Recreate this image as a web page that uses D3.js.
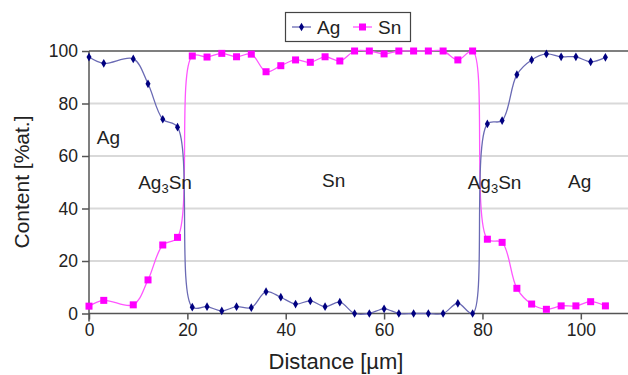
<!DOCTYPE html>
<html>
<head>
<meta charset="utf-8">
<script src="https://cdn.jsdelivr.net/npm/d3@7"></script>
<style>
  body { margin: 0; background: #fff; }
  text { font-family: "Liberation Sans", Arial, sans-serif; fill: #222; }
</style>
</head>
<body>
<div id="chart"></div>
<script>
// distance along the line scan (µm)
var distance = [0, 3, 9, 12, 15, 18, 21, 24, 27, 30, 33, 36, 39, 42, 45, 48, 51, 54,
  57, 60, 63, 66, 69, 72, 75, 78, 81, 84, 87, 90, 93, 96, 99, 102, 105];

// content in %at.
var agValues = [97.7, 95.3, 97, 87.5, 74, 71, 2.4, 2.6, 1.0, 2.6, 2.2, 8.3, 6.2, 3.6, 4.8, 2.6, 4.3, 0,
  0, 1.8, 0, 0, 0, 0, 3.9, 0, 72.2, 73.5, 91, 96.6, 98.9, 97.8, 97.8, 95.9, 97.6];
var snValues = [2.8, 5.0, 3.3, 12.8, 26.1, 29.0, 98.1, 97.7, 99.1, 97.8, 98.8, 92.1, 94.4, 96.6, 95.7, 97.8, 96.2, 100,
  100, 98.9, 100, 100, 100, 100, 96.6, 100, 28.3, 27.1, 9.6, 3.6, 1.6, 2.9, 2.9, 4.5, 2.9];

var xTicks = [0, 20, 40, 60, 80, 100];
var yTicks = [0, 20, 40, 60, 80, 100];

// phase labels placed in the plot
var phaseLabels = [
  { name: "Ag", sub: "", x: 1.6, y: 67 },
  { name: "Ag", sub: "3", after: "Sn", x: 10, y: 50 },
  { name: "Sn", sub: "", x: 47.4, y: 50.7 },
  { name: "Ag", sub: "3", after: "Sn", x: 77, y: 50 },
  { name: "Ag", sub: "", x: 97.4, y: 50.5 }
];

var svgWidth = 628;
var svgHeight = 375;
var margin = { top: 51, right: -2, bottom: 61.5, left: 89 };
var width = svgWidth - margin.left - margin.right;
var height = svgHeight - margin.top - margin.bottom;

var svg = d3.select("#chart")
  .append("svg")
  .attr("width", svgWidth)
  .attr("height", svgHeight);

var chartGroup = svg.append("g")
  .attr("transform", `translate(${margin.left}, ${margin.top})`);

var xScale = d3.scaleLinear().domain([0, 110]).range([0, width]);
var yScale = d3.scaleLinear().domain([0, 100]).range([height, 0]);

// gridlines
chartGroup.append("g")
  .selectAll("line")
  .data(yTicks.filter(d => d > 0 && d < 100))
  .enter()
  .append("line")
  .attr("x1", 0)
  .attr("x2", width)
  .attr("y1", d => yScale(d))
  .attr("y2", d => yScale(d))
  .attr("stroke", "#d9d9d9")
  .attr("stroke-width", 2);

// top border line
chartGroup.append("line")
  .attr("x1", 0).attr("x2", width)
  .attr("y1", yScale(100)).attr("y2", yScale(100))
  .attr("stroke", "#555")
  .attr("stroke-width", 1.5);

// axes
var bottomAxis = d3.axisBottom(xScale).tickValues(xTicks).tickSize(6).tickSizeOuter(0).tickPadding(4);
var leftAxis = d3.axisLeft(yScale).tickValues(yTicks).tickSize(7).tickSizeOuter(0).tickPadding(4);

var xAxisG = chartGroup.append("g")
  .attr("transform", `translate(0, ${height})`)
  .call(bottomAxis);
var yAxisG = chartGroup.append("g").call(leftAxis);

[xAxisG, yAxisG].forEach(function (g) {
  g.select(".domain").attr("stroke", "#555").attr("stroke-width", 1.5);
  g.selectAll(".tick line").attr("stroke", "#555").attr("stroke-width", 1.5);
  g.selectAll(".tick text")
    .attr("font-size", "17.5px")
    .attr("font-family", "Liberation Sans, Arial, sans-serif")
    .attr("fill", "#222");
});
xAxisG.select(".domain").attr("d", `M0,0H${width}`);
yAxisG.select(".domain").attr("d", `M0,${yScale(100)}V${height + 8}`);

// series lines
var agData = distance.map((d, i) => ({ x: d, y: agValues[i] }));
var snData = distance.map((d, i) => ({ x: d, y: snValues[i] }));

var line = d3.line()
  .x(d => xScale(d.x))
  .y(d => yScale(d.y))
  .curve(d3.curveCatmullRom.alpha(0.5));

chartGroup.append("path")
  .datum(snData)
  .attr("d", line)
  .attr("fill", "none")
  .attr("stroke", "#ff55ff")
  .attr("stroke-width", 1.3);

chartGroup.append("path")
  .datum(agData)
  .attr("d", line)
  .attr("fill", "none")
  .attr("stroke", "#6a6ab4")
  .attr("stroke-width", 1.3);

// markers
chartGroup.append("g")
  .selectAll("rect")
  .data(snData)
  .enter()
  .append("rect")
  .attr("x", d => xScale(d.x) - 3.5)
  .attr("y", d => yScale(d.y) - 3.5)
  .attr("width", 7)
  .attr("height", 7)
  .attr("fill", "#ff00ff");

var diamond = d3.symbol().type(d3.symbolDiamond).size(22);
chartGroup.append("g")
  .selectAll("path")
  .data(agData)
  .enter()
  .append("path")
  .attr("d", diamond)
  .attr("transform", d => `translate(${xScale(d.x)}, ${yScale(d.y)})`)
  .attr("fill", "#000080");

// phase labels
phaseLabels.forEach(function (p) {
  var t = chartGroup.append("text")
    .attr("x", xScale(p.x))
    .attr("y", yScale(p.y))
    .attr("dy", "0.35em")
    .attr("font-size", "19px");
  t.append("tspan").text(p.name);
  if (p.sub) {
    t.append("tspan").attr("font-size", "13px").attr("dy", "4").text(p.sub);
    t.append("tspan").attr("dy", "-4").text(p.after);
  }
});

// axis labels
svg.append("text")
  .attr("transform", "translate(29, 182) rotate(-90)")
  .attr("text-anchor", "middle")
  .attr("font-size", "21px")
  .text("Content [%at.]");

svg.append("text")
  .attr("x", 336)
  .attr("y", 369)
  .attr("text-anchor", "middle")
  .attr("font-size", "22px")
  .text("Distance [µm]");

// legend
var legend = svg.append("g");
legend.append("rect")
  .attr("x", 285.5).attr("y", 12.5)
  .attr("width", 125).attr("height", 29)
  .attr("fill", "#fff")
  .attr("stroke", "#444")
  .attr("stroke-width", 1.2);

legend.append("line")
  .attr("x1", 292).attr("x2", 311).attr("y1", 27).attr("y2", 27)
  .attr("stroke", "#6a6ab4").attr("stroke-width", 1.3);
legend.append("path")
  .attr("d", diamond)
  .attr("transform", "translate(301.5, 27)")
  .attr("fill", "#000080");
legend.append("text")
  .attr("x", 317).attr("y", 27).attr("dy", "0.35em")
  .attr("font-size", "19px").text("Ag");

legend.append("line")
  .attr("x1", 353).attr("x2", 372).attr("y1", 27).attr("y2", 27)
  .attr("stroke", "#ff55ff").attr("stroke-width", 1.3);
legend.append("rect")
  .attr("x", 359).attr("y", 23.5).attr("width", 7).attr("height", 7)
  .attr("fill", "#ff00ff");
legend.append("text")
  .attr("x", 378).attr("y", 27).attr("dy", "0.35em")
  .attr("font-size", "19px").text("Sn");
</script>
</body>
</html>
